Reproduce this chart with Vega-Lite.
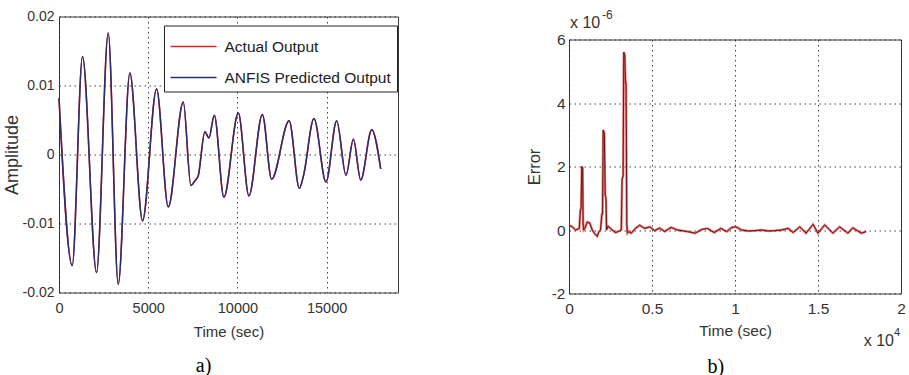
{
  "$schema": "https://vega.github.io/schema/vega-lite/v6.json",
  "background": "white",
  "padding": {"left": 2, "top": 8.5, "right": 0, "bottom": 0},
  "spacing": 127,
  "config": {
    "view": {"stroke": "#3a3a3a", "strokeWidth": 1},
    "axis": {
      "domain": false,
      "ticks": false,
      "grid": true,
      "gridColor": "#222222",
      "gridDash": [1.5, 3.5],
      "gridWidth": 1,
      "gridOpacity": 0.85,
      "labelFlush": false,
      "labelFont": "Liberation Sans, Arial",
      "labelColor": "#333333",
      "titleFont": "Liberation Sans, Arial",
      "titleColor": "#333333",
      "titleFontWeight": "normal"
    }
  },
  "hconcat": [
    {
      "width": 339,
      "height": 276,
      "layer": [
        {
          "data": {"values": [
            {"series": "Actual Output", "time": 0, "amplitude": 0.0082},
            {"series": "Actual Output", "time": 740, "amplitude": -0.0161},
            {"series": "Actual Output", "time": 1318, "amplitude": 0.0142},
            {"series": "Actual Output", "time": 2103, "amplitude": -0.0171},
            {"series": "Actual Output", "time": 2759, "amplitude": 0.0176},
            {"series": "Actual Output", "time": 3320, "amplitude": -0.0188},
            {"series": "Actual Output", "time": 3971, "amplitude": 0.0118},
            {"series": "Actual Output", "time": 4683, "amplitude": -0.0096},
            {"series": "Actual Output", "time": 5468, "amplitude": 0.0095},
            {"series": "Actual Output", "time": 6124, "amplitude": -0.0076},
            {"series": "Actual Output", "time": 6966, "amplitude": 0.0076},
            {"series": "Actual Output", "time": 7392, "amplitude": -0.0045},
            {"series": "Actual Output", "time": 7620, "amplitude": -0.0038},
            {"series": "Actual Output", "time": 7800, "amplitude": -0.0031},
            {"series": "Actual Output", "time": 8177, "amplitude": 0.0033},
            {"series": "Actual Output", "time": 8402, "amplitude": 0.0024},
            {"series": "Actual Output", "time": 8704, "amplitude": 0.0057},
            {"series": "Actual Output", "time": 9243, "amplitude": -0.0062},
            {"series": "Actual Output", "time": 10050, "amplitude": 0.006},
            {"series": "Actual Output", "time": 10645, "amplitude": -0.006},
            {"series": "Actual Output", "time": 11397, "amplitude": 0.0058},
            {"series": "Actual Output", "time": 11918, "amplitude": -0.0036},
            {"series": "Actual Output", "time": 12900, "amplitude": 0.0049},
            {"series": "Actual Output", "time": 13472, "amplitude": -0.0049},
            {"series": "Actual Output", "time": 13700, "amplitude": -0.0031},
            {"series": "Actual Output", "time": 14291, "amplitude": 0.0052},
            {"series": "Actual Output", "time": 14964, "amplitude": -0.004},
            {"series": "Actual Output", "time": 15563, "amplitude": 0.0049},
            {"series": "Actual Output", "time": 16085, "amplitude": -0.003},
            {"series": "Actual Output", "time": 16500, "amplitude": 0.0022},
            {"series": "Actual Output", "time": 16910, "amplitude": -0.0037},
            {"series": "Actual Output", "time": 17527, "amplitude": 0.0036},
            {"series": "Actual Output", "time": 18031, "amplitude": -0.0021},
            {"series": "ANFIS Predicted Output", "time": 0, "amplitude": 0.0082},
            {"series": "ANFIS Predicted Output", "time": 740, "amplitude": -0.0161},
            {"series": "ANFIS Predicted Output", "time": 1318, "amplitude": 0.0142},
            {"series": "ANFIS Predicted Output", "time": 2103, "amplitude": -0.0171},
            {"series": "ANFIS Predicted Output", "time": 2759, "amplitude": 0.0176},
            {"series": "ANFIS Predicted Output", "time": 3320, "amplitude": -0.0188},
            {"series": "ANFIS Predicted Output", "time": 3971, "amplitude": 0.0118},
            {"series": "ANFIS Predicted Output", "time": 4683, "amplitude": -0.0096},
            {"series": "ANFIS Predicted Output", "time": 5468, "amplitude": 0.0095},
            {"series": "ANFIS Predicted Output", "time": 6124, "amplitude": -0.0076},
            {"series": "ANFIS Predicted Output", "time": 6966, "amplitude": 0.0076},
            {"series": "ANFIS Predicted Output", "time": 7392, "amplitude": -0.0045},
            {"series": "ANFIS Predicted Output", "time": 7620, "amplitude": -0.0038},
            {"series": "ANFIS Predicted Output", "time": 7800, "amplitude": -0.0031},
            {"series": "ANFIS Predicted Output", "time": 8177, "amplitude": 0.0033},
            {"series": "ANFIS Predicted Output", "time": 8402, "amplitude": 0.0024},
            {"series": "ANFIS Predicted Output", "time": 8704, "amplitude": 0.0057},
            {"series": "ANFIS Predicted Output", "time": 9243, "amplitude": -0.0062},
            {"series": "ANFIS Predicted Output", "time": 10050, "amplitude": 0.006},
            {"series": "ANFIS Predicted Output", "time": 10645, "amplitude": -0.006},
            {"series": "ANFIS Predicted Output", "time": 11397, "amplitude": 0.0058},
            {"series": "ANFIS Predicted Output", "time": 11918, "amplitude": -0.0036},
            {"series": "ANFIS Predicted Output", "time": 12900, "amplitude": 0.0049},
            {"series": "ANFIS Predicted Output", "time": 13472, "amplitude": -0.0049},
            {"series": "ANFIS Predicted Output", "time": 13700, "amplitude": -0.0031},
            {"series": "ANFIS Predicted Output", "time": 14291, "amplitude": 0.0052},
            {"series": "ANFIS Predicted Output", "time": 14964, "amplitude": -0.004},
            {"series": "ANFIS Predicted Output", "time": 15563, "amplitude": 0.0049},
            {"series": "ANFIS Predicted Output", "time": 16085, "amplitude": -0.003},
            {"series": "ANFIS Predicted Output", "time": 16500, "amplitude": 0.0022},
            {"series": "ANFIS Predicted Output", "time": 16910, "amplitude": -0.0037},
            {"series": "ANFIS Predicted Output", "time": 17527, "amplitude": 0.0036},
            {"series": "ANFIS Predicted Output", "time": 18031, "amplitude": -0.0021}
          ]},
          "mark": {"type": "line", "interpolate": "monotone", "strokeWidth": 1.5},
          "encoding": {
            "x": {
              "field": "time", "type": "quantitative",
              "scale": {"domain": [0, 19000], "nice": false, "zero": false},
              "axis": {"values": [0, 5000, 10000, 15000], "format": "d", "title": "Time (sec)",
                       "labelFontSize": 14.5, "labelPadding": 9, "titleFontSize": 15, "titlePadding": 9}
            },
            "y": {
              "field": "amplitude", "type": "quantitative",
              "scale": {"domain": [-0.02, 0.02], "nice": false, "zero": false},
              "axis": {"values": [-0.02, -0.01, 0, 0.01, 0.02], "labelExpr": "'' + datum.value",
                       "title": "Amplitude",
                       "labelFontSize": 14, "labelPadding": 5, "minExtent": 35, "maxExtent": 35,
                       "titleFontSize": 18, "titlePadding": 3}
            },
            "color": {
              "field": "series", "type": "nominal",
              "scale": {"domain": ["Actual Output", "ANFIS Predicted Output"], "range": ["#e02424", "#2b2d6e"]},
              "legend": {
                "title": null, "orient": "none", "legendX": 105, "legendY": 9,
                "symbolType": "M-1,0H2.17", "symbolSize": 841, "symbolStrokeWidth": 1.5,
                "labelFont": "Liberation Sans, Arial", "labelFontSize": 15.5,
                "labelColor": "#222222", "labelOffset": 24, "labelLimit": 400,
                "strokeColor": "#222222", "fillColor": "white", "padding": 5.5, "rowPadding": 7
              }
            }
          }
        },
        {
          "data": {"values": [{}]},
          "mark": {"type": "text", "font": "Liberation Serif, Times New Roman", "fontSize": 20, "color": "black", "align": "center", "baseline": "middle"},
          "encoding": {
            "x": {"datum": 8100, "type": "quantitative"},
            "y": {"datum": -0.0306, "type": "quantitative"},
            "text": {"value": "a)"}
          }
        }
      ]
    },
    {
      "spacing": 0,
      "resolve": {"scale": {"x": "independent", "y": "independent"}},
      "vconcat": [
        {
          "width": 332,
          "height": 14,
          "view": {"stroke": null},
          "data": {"values": [{}]},
          "layer": [
            {
              "mark": {"type": "text", "font": "Liberation Sans, Arial", "fontSize": 16, "color": "#333333", "align": "left", "baseline": "middle", "dx": 1},
              "encoding": {
                "x": {"datum": 0, "type": "quantitative", "scale": {"domain": [0, 20000], "nice": false, "zero": false}, "axis": null},
                "y": {"datum": 0.5714, "type": "quantitative", "scale": {"domain": [0, 1], "nice": false, "zero": false}, "axis": null},
                "text": {"value": "x 10"}
              }
            },
            {
              "mark": {"type": "text", "font": "Liberation Sans, Arial", "fontSize": 12, "color": "#333333", "align": "left", "baseline": "middle", "dx": 33},
              "encoding": {
                "x": {"datum": 0, "type": "quantitative"},
                "y": {"datum": 1.107, "type": "quantitative"},
                "text": {"value": "-6"}
              }
            }
          ]
        },
        {
          "width": 332,
          "height": 254,
          "layer": [
            {
              "data": {"values": [
                {"time": 0, "error": 0.15e-6},
                {"time": 200, "error": 0.1e-6},
                {"time": 400, "error": 0.0},
                {"time": 620, "error": 0.05e-6},
                {"time": 680, "error": 0.6e-6},
                {"time": 730, "error": 0.7e-6},
                {"time": 770, "error": 2.0e-6},
                {"time": 820, "error": 1.95e-6},
                {"time": 850, "error": 0.2e-6},
                {"time": 880, "error": 0.0},
                {"time": 960, "error": 0.05e-6},
                {"time": 1100, "error": 0.25e-6},
                {"time": 1250, "error": 0.22e-6},
                {"time": 1400, "error": 0.0},
                {"time": 1550, "error": -0.12e-6},
                {"time": 1700, "error": -0.2e-6},
                {"time": 1800, "error": -0.05e-6},
                {"time": 1900, "error": 0.0},
                {"time": 1980, "error": 0.5e-6},
                {"time": 2020, "error": 0.5e-6},
                {"time": 2060, "error": 3.15e-6},
                {"time": 2130, "error": 3.05e-6},
                {"time": 2180, "error": 1.1e-6},
                {"time": 2230, "error": 1.0e-6},
                {"time": 2260, "error": 0.0},
                {"time": 2350, "error": 0.12e-6},
                {"time": 2500, "error": 0.05e-6},
                {"time": 2650, "error": -0.02e-6},
                {"time": 2800, "error": -0.08e-6},
                {"time": 2950, "error": -0.05e-6},
                {"time": 3150, "error": 0.0},
                {"time": 3200, "error": 1.6e-6},
                {"time": 3260, "error": 1.7e-6},
                {"time": 3300, "error": 5.6e-6},
                {"time": 3360, "error": 5.5e-6},
                {"time": 3400, "error": 4.7e-6},
                {"time": 3440, "error": 4.6e-6},
                {"time": 3480, "error": 0.2e-6},
                {"time": 3520, "error": -0.1e-6},
                {"time": 3600, "error": -0.05e-6},
                {"time": 3750, "error": -0.1e-6},
                {"time": 4000, "error": 0.05e-6},
                {"time": 4260, "error": 0.15e-6},
                {"time": 4560, "error": 0.05e-6},
                {"time": 4860, "error": 0.1e-6},
                {"time": 5160, "error": -0.02e-6},
                {"time": 5460, "error": 0.06e-6},
                {"time": 5760, "error": -0.05e-6},
                {"time": 6150, "error": 0.08e-6},
                {"time": 6550, "error": 0.0},
                {"time": 7150, "error": -0.05e-6},
                {"time": 7600, "error": -0.1e-6},
                {"time": 8000, "error": 0.02e-6},
                {"time": 8350, "error": 0.05e-6},
                {"time": 8750, "error": -0.08e-6},
                {"time": 9150, "error": 0.05e-6},
                {"time": 9500, "error": -0.05e-6},
                {"time": 9800, "error": 0.08e-6},
                {"time": 10050, "error": 0.1e-6},
                {"time": 10400, "error": 0.0},
                {"time": 10800, "error": -0.03e-6},
                {"time": 11200, "error": -0.02e-6},
                {"time": 11600, "error": 0.0},
                {"time": 12000, "error": -0.03e-6},
                {"time": 12400, "error": -0.02e-6},
                {"time": 12800, "error": 0.0},
                {"time": 13200, "error": 0.05e-6},
                {"time": 13500, "error": -0.08e-6},
                {"time": 13900, "error": 0.1e-6},
                {"time": 14280, "error": -0.1e-6},
                {"time": 14700, "error": 0.18e-6},
                {"time": 15000, "error": -0.1e-6},
                {"time": 15400, "error": 0.16e-6},
                {"time": 15900, "error": -0.1e-6},
                {"time": 16300, "error": 0.1e-6},
                {"time": 16800, "error": -0.1e-6},
                {"time": 17100, "error": 0.07e-6},
                {"time": 17600, "error": -0.1e-6},
                {"time": 17900, "error": -0.05e-6}
              ]},
              "layer": [
                {
                  "mark": {"type": "line", "color": "#e03a3a", "strokeWidth": 2.4, "opacity": 0.7},
                  "encoding": {
                    "x": {
                      "field": "time", "type": "quantitative",
                      "scale": {"domain": [0, 20000], "nice": false, "zero": false},
                      "axis": {"values": [0, 5000, 10000, 15000, 20000], "labelExpr": "'' + datum.value / 10000",
                               "title": "Time (sec)", "labelFontSize": 15.5, "labelPadding": 8,
                               "titleFontSize": 15.5, "titlePadding": 6}
                    },
                    "y": {
                      "field": "error", "type": "quantitative",
                      "scale": {"domain": [-2e-6, 6e-6], "nice": false, "zero": false},
                      "axis": {"values": [-2e-6, 0, 2e-6, 4e-6, 6e-6], "labelExpr": "'' + round(datum.value * 1e6)",
                               "title": "Error",
                               "labelFontSize": 15.5, "labelPadding": 4, "minExtent": 20, "maxExtent": 20,
                               "titleFontSize": 16.5, "titlePadding": 6.5}
                    }
                  }
                },
                {
                  "mark": {"type": "line", "color": "#6e1414", "strokeWidth": 1},
                  "encoding": {
                    "x": {"field": "time", "type": "quantitative"},
                    "y": {"field": "error", "type": "quantitative"}
                  }
                }
              ]
            },
            {
              "data": {"values": [{}]},
              "layer": [
                {
                  "mark": {"type": "text", "font": "Liberation Sans, Arial", "fontSize": 16, "color": "#333333", "align": "right", "baseline": "middle", "dx": -7},
                  "encoding": {"x": {"datum": 20000, "type": "quantitative"}, "y": {"datum": -3.5e-6, "type": "quantitative"}, "text": {"value": "x 10"}}
                },
                {
                  "mark": {"type": "text", "font": "Liberation Sans, Arial", "fontSize": 11, "color": "#333333", "align": "right", "baseline": "middle", "dx": -1},
                  "encoding": {"x": {"datum": 20000, "type": "quantitative"}, "y": {"datum": -3.25e-6, "type": "quantitative"}, "text": {"value": "4"}}
                },
                {
                  "mark": {"type": "text", "font": "Liberation Serif, Times New Roman", "fontSize": 20, "color": "black", "align": "center", "baseline": "middle"},
                  "encoding": {"x": {"datum": 8850, "type": "quantitative"}, "y": {"datum": -4.3e-6, "type": "quantitative"}, "text": {"value": "b)"}}
                }
              ]
            }
          ]
        }
      ]
    }
  ]
}
